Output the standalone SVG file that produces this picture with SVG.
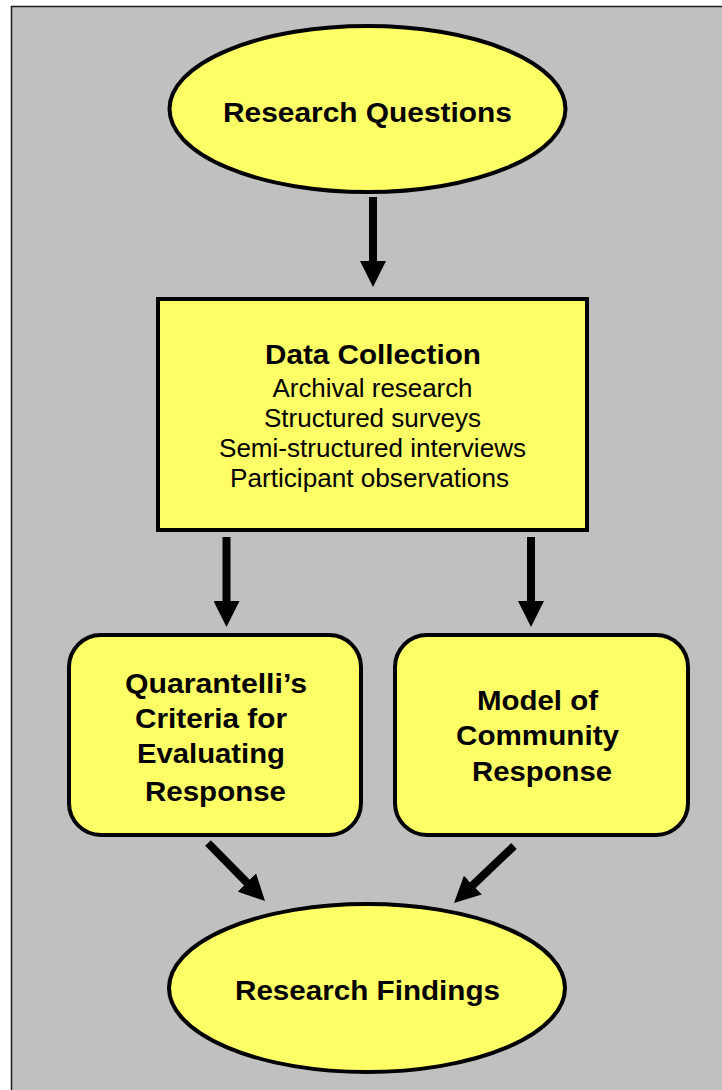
<svg xmlns="http://www.w3.org/2000/svg" width="722" height="1090" viewBox="0 0 722 1090">
  <style>
    .node { fill: #FFFF66; stroke: #000; stroke-width: 4; }
    .title { font-family: "Liberation Sans", Arial, sans-serif; font-weight: bold; font-size: 28px; fill: #000; text-anchor: middle; }
    .item { font-family: "Liberation Sans", Arial, sans-serif; font-size: 26px; fill: #000; text-anchor: middle; }
    .arrow { stroke: #000; stroke-width: 8; fill: none; marker-end: url(#head); }
  </style>
  <defs>
    <marker id="head" markerUnits="userSpaceOnUse" markerWidth="26" markerHeight="26" refX="2" refY="13" orient="auto" viewBox="0 0 26 26">
      <path d="M0,0 L26,13 L0,26 Z" fill="#000"/>
    </marker>
  </defs>

  <!-- page and panel -->
  <rect x="0" y="0" width="722" height="1090" fill="#FFFFFF"/>
  <rect x="11.5" y="6.5" width="720" height="1100" fill="#C0C0C0" stroke="#1A1A1A" stroke-width="1.5"/>

  <!-- connectors -->
  <g id="connectors">
    <line class="arrow" x1="373" y1="197" x2="373" y2="263"/>
    <line class="arrow" x1="226.5" y1="537" x2="226.5" y2="603"/>
    <line class="arrow" x1="531" y1="537" x2="531" y2="603"/>
    <line class="arrow" x1="208" y1="843" x2="248.2" y2="883.9"/>
    <line class="arrow" x1="514" y1="846" x2="471.4" y2="886.5"/>
  </g>

  <g id="research-questions">
    <ellipse class="node" cx="367.5" cy="109" rx="198" ry="83" stroke-width="3.5"/>
    <text class="title" x="367.5" y="122" textLength="289" lengthAdjust="spacingAndGlyphs">Research Questions</text>
  </g>

  <g id="data-collection">
    <rect class="node" x="158" y="299" width="429" height="231"/>
    <text class="title" x="373" y="364" textLength="216" lengthAdjust="spacingAndGlyphs">Data Collection</text>
    <text class="item" x="372.5" y="397" textLength="200" lengthAdjust="spacingAndGlyphs">Archival research</text>
    <text class="item" x="372.5" y="427" textLength="217" lengthAdjust="spacingAndGlyphs">Structured surveys</text>
    <text class="item" x="372.5" y="457" textLength="307" lengthAdjust="spacingAndGlyphs">Semi-structured interviews</text>
    <text class="item" x="369.5" y="487" textLength="279" lengthAdjust="spacingAndGlyphs">Participant observations</text>
  </g>

  <g id="quarantelli-criteria">
    <rect class="node" x="69" y="635" width="292" height="200" rx="32" ry="32"/>
    <text class="title" x="216" y="693" textLength="182" lengthAdjust="spacingAndGlyphs">Quarantelli’s</text>
    <text class="title" x="211" y="728" textLength="152" lengthAdjust="spacingAndGlyphs">Criteria for</text>
    <text class="title" x="211" y="763" textLength="148" lengthAdjust="spacingAndGlyphs">Evaluating</text>
    <text class="title" x="215.5" y="801" textLength="141" lengthAdjust="spacingAndGlyphs">Response</text>
  </g>

  <g id="community-response-model">
    <rect class="node" x="395" y="635" width="293" height="200" rx="32" ry="32"/>
    <text class="title" x="537.5" y="710" textLength="121" lengthAdjust="spacingAndGlyphs">Model of</text>
    <text class="title" x="537.5" y="745" textLength="163" lengthAdjust="spacingAndGlyphs">Community</text>
    <text class="title" x="542" y="781" textLength="140" lengthAdjust="spacingAndGlyphs">Response</text>
  </g>

  <g id="research-findings">
    <ellipse class="node" cx="367" cy="988" rx="198" ry="84" stroke-width="3.5"/>
    <text class="title" x="367.5" y="1000" textLength="265" lengthAdjust="spacingAndGlyphs">Research Findings</text>
  </g>
</svg>
